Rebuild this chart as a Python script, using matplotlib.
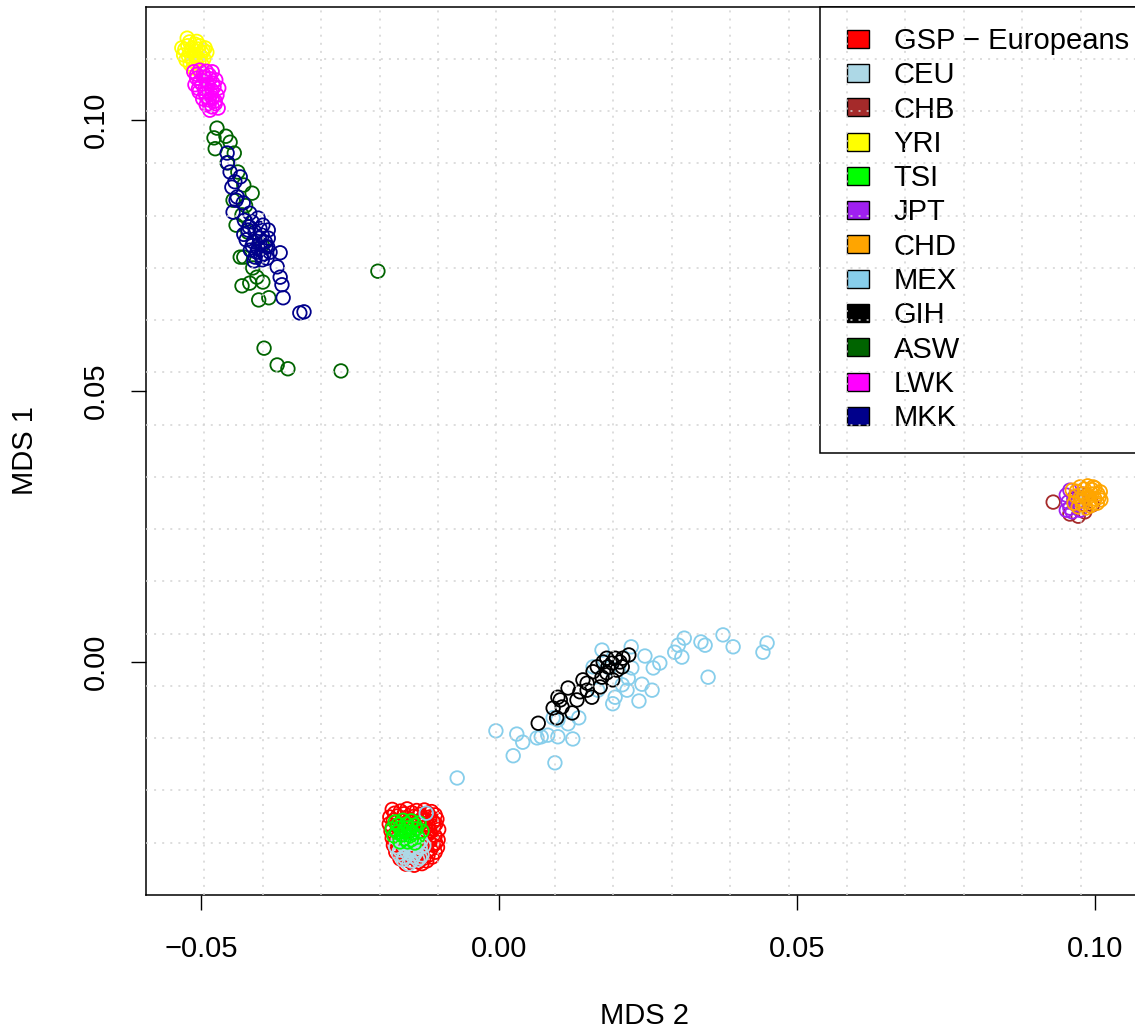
import matplotlib
matplotlib.use("Agg")
import matplotlib.pyplot as plt
import matplotlib.patches as mpatches
from matplotlib.legend_handler import HandlerPatch
import numpy as np

plt.rcParams['font.family'] = ['Liberation Sans', 'DejaVu Sans']

# population order = legend order = drawing order
pops = ["GSP \u2212 Europeans", "CEU", "CHB", "YRI", "TSI", "JPT", "CHD",
        "MEX", "GIH", "ASW", "LWK", "MKK"]
colors = ["#FF0000", "#ADD8E6", "#A52A2A", "#FFFF00", "#00FF00", "#A020F0",
          "#FFA500", "#87CEEB", "#000000", "#006400", "#FF00FF", "#00008B"]

# MDS 2 (x) and MDS 1 (y) values
gsp_x = [-0.0180, -0.0166, -0.0155, -0.0139, -0.0126, -0.0114,
         -0.0184, -0.0171, -0.0157, -0.0144, -0.0129, -0.0117, -0.0105,
         -0.0185, -0.0172, -0.0159, -0.0147, -0.0134, -0.0120, -0.0107,
         -0.0182, -0.0168, -0.0156, -0.0141, -0.0128, -0.0116, -0.0102,
         -0.0180, -0.0167, -0.0153, -0.0140, -0.0126, -0.0113, -0.0103,
         -0.0178, -0.0165, -0.0151, -0.0138, -0.0124, -0.0111, -0.0104,
         -0.0174, -0.0161, -0.0147, -0.0133, -0.0121, -0.0108,
         -0.0167, -0.0154, -0.0141, -0.0127, -0.0113,
         -0.0157, -0.0143, -0.0130,
         -0.0176, -0.0160, -0.0147, -0.0133, -0.0120, -0.0108,
         -0.0178, -0.0164, -0.0150, -0.0137, -0.0123, -0.0111,
         -0.0180, -0.0165, -0.0152, -0.0138, -0.0125, -0.0110,
         -0.0176, -0.0162, -0.0148, -0.0134, -0.0120, -0.0108,
         -0.0174, -0.0160, -0.0146, -0.0132, -0.0118, -0.0107,
         -0.0170, -0.0156, -0.0143, -0.0129, -0.0115,
         -0.0162, -0.0148, -0.0134, -0.0120,
         -0.0150, -0.0136, -0.0122]
gsp_y = [-0.0272, -0.0275, -0.0271, -0.0274, -0.0273, -0.0276,
         -0.0286, -0.0284, -0.0287, -0.0285, -0.0288, -0.0286, -0.0290,
         -0.0299, -0.0301, -0.0298, -0.0300, -0.0297, -0.0301, -0.0299,
         -0.0312, -0.0310, -0.0313, -0.0311, -0.0314, -0.0312, -0.0309,
         -0.0325, -0.0327, -0.0324, -0.0326, -0.0323, -0.0325, -0.0328,
         -0.0338, -0.0336, -0.0339, -0.0337, -0.0340, -0.0338, -0.0342,
         -0.0351, -0.0353, -0.0350, -0.0352, -0.0349, -0.0351,
         -0.0363, -0.0361, -0.0364, -0.0362, -0.0360,
         -0.0373, -0.0375, -0.0372,
         -0.0279, -0.0280, -0.0278, -0.0281, -0.0279, -0.0282,
         -0.0292, -0.0293, -0.0291, -0.0294, -0.0292, -0.0295,
         -0.0305, -0.0306, -0.0304, -0.0307, -0.0305, -0.0303,
         -0.0318, -0.0319, -0.0317, -0.0320, -0.0318, -0.0321,
         -0.0331, -0.0332, -0.0330, -0.0333, -0.0331, -0.0334,
         -0.0345, -0.0346, -0.0344, -0.0347, -0.0345,
         -0.0357, -0.0358, -0.0356, -0.0357,
         -0.0368, -0.0369, -0.0367]

ceu_x = [-0.0170, -0.0157, -0.0143, -0.0132, -0.0174, -0.0160, -0.0147, -0.0133,
         -0.0127, -0.0169, -0.0155, -0.0142, -0.0130, -0.0162, -0.0148, -0.0137, -0.0152,
         -0.0163, -0.0150, -0.0137, -0.0167, -0.0153, -0.0140, -0.0160, -0.0145, -0.0133]
ceu_y = [-0.0328, -0.0325, -0.0327, -0.0330, -0.0341, -0.0339, -0.0341, -0.0343,
         -0.0339, -0.0354, -0.0352, -0.0354, -0.0356, -0.0365, -0.0367, -0.0365, -0.0373,
         -0.0334, -0.0333, -0.0335, -0.0347, -0.0346, -0.0348, -0.0360, -0.0359, -0.0361]

chb_x = [0.0929, 0.0957, 0.0971, 0.0982, 0.0964, 0.0984, 0.0995]
chb_y = [0.0295, 0.0273, 0.0269, 0.0277, 0.0300, 0.0308, 0.0290]

yri_x = [-0.0524, -0.0533, -0.0523, -0.0511, -0.0503, -0.0494, -0.0530, -0.0519,
         -0.0509, -0.0499, -0.0491, -0.0526, -0.0516, -0.0506, -0.0496, -0.0519,
         -0.0509, -0.0499, -0.0514, -0.0504,
         -0.0528, -0.0516, -0.0506, -0.0497, -0.0522, -0.0512, -0.0502, -0.0514,
         -0.0504, -0.0520, -0.0508]
yri_y = [0.1151, 0.1133, 0.1137, 0.1140, 0.1137, 0.1133, 0.1120, 0.1124,
         0.1127, 0.1124, 0.1125, 0.1111, 0.1114, 0.1116, 0.1113, 0.1103,
         0.1105, 0.1102, 0.1096, 0.1092,
         0.1130, 0.1132, 0.1131, 0.1129, 0.1118, 0.1120, 0.1119, 0.1108,
         0.1109, 0.1144, 0.1145]

tsi_x = [-0.0175, -0.0162, -0.0148, -0.0135, -0.0180, -0.0167, -0.0154, -0.0140,
         -0.0130, -0.0177, -0.0164, -0.0150, -0.0137, -0.0167, -0.0154, -0.0142,
         -0.0170, -0.0156, -0.0142, -0.0172, -0.0160, -0.0146, -0.0160, -0.0148]
tsi_y = [-0.0295, -0.0292, -0.0293, -0.0297, -0.0308, -0.0306, -0.0306, -0.0308,
         -0.0312, -0.0321, -0.0319, -0.0321, -0.0323, -0.0332, -0.0332, -0.0334,
         -0.0300, -0.0299, -0.0301, -0.0314, -0.0313, -0.0315, -0.0326, -0.0328]

jpt_x = [0.0951, 0.0957, 0.0954, 0.0964, 0.0957, 0.0967, 0.0961, 0.0974, 0.0971,
         0.0977, 0.0951]
jpt_y = [0.0308, 0.0317, 0.0295, 0.0303, 0.0284, 0.0290, 0.0277, 0.0280, 0.0299,
         0.0310, 0.0280]

chd_x = [0.0961, 0.0974, 0.0987, 0.0999, 0.1008, 0.0967, 0.0981, 0.0994, 0.1006,
         0.0964, 0.0977, 0.0991, 0.1003, 0.0984, 0.0971, 0.0996, 0.1009,
         0.0968, 0.0981, 0.0994, 0.1004, 0.0974, 0.0987, 0.0999, 0.0978, 0.0991]
chd_y = [0.0317, 0.0323, 0.0325, 0.0321, 0.0314, 0.0306, 0.0310, 0.0310, 0.0304,
         0.0293, 0.0297, 0.0295, 0.0293, 0.0284, 0.0286, 0.0323, 0.0299,
         0.0315, 0.0319, 0.0318, 0.0310, 0.0302, 0.0303, 0.0301, 0.0290, 0.0288]

mex_x = [-0.0123, -0.0071, -0.0006, 0.0029, 0.0039, 0.0023, 0.0063, 0.0070, 0.0081,
         0.0098, 0.0093, 0.0123, 0.0090, 0.0115, 0.0133, 0.0172, 0.0221, 0.0244,
         0.0222, 0.0157, 0.0258, 0.0269, 0.0294, 0.0306, 0.0300, 0.0310, 0.0338,
         0.0345, 0.0375, 0.0392, 0.0350, 0.0442, 0.0449, 0.0239, 0.0256, 0.0234,
         0.0190, 0.0194, 0.0214, 0.0206, 0.0216, 0.0098, 0.0185, 0.0165]
mex_y = [-0.0279, -0.0214, -0.0127, -0.0133, -0.0148, -0.0173, -0.0140, -0.0138, -0.0135,
         -0.0138, -0.0186, -0.0142, -0.0103, -0.0114, -0.0103, 0.0022, 0.0028, 0.0011,
         -0.0011, -0.0009, -0.0011, -0.0002, 0.0018, 0.0009, 0.0031, 0.0044, 0.0037,
         0.0031, 0.0050, 0.0028, -0.0028, 0.0018, 0.0035, -0.0041, -0.0052, -0.0072,
         -0.0077, -0.0065, -0.0052, -0.0042, -0.0030, -0.0107, -0.0011, -0.0052]

gih_x = [0.0065, 0.0090, 0.0096, 0.0102, 0.0115, 0.0122, 0.0130, 0.0135, 0.0147,
         0.0155, 0.0140, 0.0157, 0.0169, 0.0164, 0.0174, 0.0180, 0.0189, 0.0197,
         0.0202, 0.0194, 0.0217, 0.0190, 0.0182, 0.0172, 0.0147, 0.0105, 0.0098,
         0.0206, 0.0207, 0.0180]
gih_y = [-0.0113, -0.0085, -0.0103, -0.0070, -0.0048, -0.0094, -0.0070, -0.0055, -0.0039,
         -0.0065, -0.0033, -0.0018, -0.0046, -0.0009, 0.0000, -0.0020, -0.0002, -0.0015,
         0.0000, 0.0007, 0.0013, -0.0033, -0.0009, -0.0028, -0.0052, -0.0083, -0.0065,
         -0.0009, 0.0007, 0.0007]

asw_x = [-0.0474, -0.0479, -0.0459, -0.0477, -0.0452, -0.0445, -0.0457, -0.0439,
         -0.0429, -0.0415, -0.0447, -0.0432, -0.0435, -0.0429, -0.0414, -0.0432,
         -0.0419, -0.0407, -0.0397, -0.0404, -0.0387, -0.0204, -0.0395, -0.0373,
         -0.0355, -0.0266, -0.0422, -0.0398, -0.0442, -0.0426]
asw_y = [0.0985, 0.0967, 0.0970, 0.0947, 0.0959, 0.0939, 0.0921, 0.0904,
         0.0880, 0.0865, 0.0852, 0.0825, 0.0747, 0.0747, 0.0727, 0.0694,
         0.0699, 0.0710, 0.0701, 0.0668, 0.0672, 0.0721, 0.0579, 0.0548,
         0.0541, 0.0537, 0.0793, 0.0769, 0.0806, 0.0842]

lwk_x = [-0.0513, -0.0503, -0.0492, -0.0482, -0.0508, -0.0496, -0.0486, -0.0476,
         -0.0511, -0.0499, -0.0489, -0.0479, -0.0471, -0.0504, -0.0494, -0.0484,
         -0.0474, -0.0498, -0.0487, -0.0477, -0.0492, -0.0482, -0.0472, -0.0486,
         -0.0508, -0.0497, -0.0487, -0.0503, -0.0491, -0.0481, -0.0505, -0.0494,
         -0.0483, -0.0492, -0.0482, -0.0487, -0.0477]
lwk_y = [0.1089, 0.1092, 0.1090, 0.1089, 0.1077, 0.1079, 0.1076, 0.1074,
         0.1065, 0.1066, 0.1063, 0.1061, 0.1059, 0.1052, 0.1050, 0.1048,
         0.1046, 0.1039, 0.1037, 0.1035, 0.1028, 0.1024, 0.1022, 0.1018,
         0.1084, 0.1085, 0.1083, 0.1071, 0.1070, 0.1068, 0.1058, 0.1057,
         0.1055, 0.1043, 0.1041, 0.1030, 0.1030]

mkk_x = [-0.0457, -0.0456, -0.0452, -0.0444, -0.0449, -0.0440, -0.0430, -0.0447,
         -0.0419, -0.0428, -0.0415, -0.0405, -0.0397, -0.0422, -0.0410, -0.0398,
         -0.0388, -0.0425, -0.0413, -0.0402, -0.0392, -0.0418, -0.0407, -0.0395,
         -0.0385, -0.0410, -0.0398, -0.0429, -0.0403, -0.0388, -0.0389, -0.0368,
         -0.0373, -0.0368, -0.0365, -0.0363, -0.0335, -0.0328, -0.0435, -0.0442,
         -0.0420, -0.0402, -0.0393, -0.0415, -0.0405, -0.0400, -0.0390, -0.0412]
mkk_y = [0.0939, 0.0921, 0.0904, 0.0886, 0.0876, 0.0858, 0.0847, 0.0830,
         0.0828, 0.0815, 0.0812, 0.0819, 0.0806, 0.0797, 0.0793, 0.0787,
         0.0782, 0.0779, 0.0775, 0.0771, 0.0766, 0.0760, 0.0756, 0.0753,
         0.0756, 0.0747, 0.0742, 0.0789, 0.0782, 0.0797, 0.0766, 0.0755,
         0.0729, 0.0710, 0.0696, 0.0672, 0.0644, 0.0646, 0.0895, 0.0852,
         0.0803, 0.0800, 0.0775, 0.0768, 0.0763, 0.0750, 0.0745, 0.0740]

xs = [gsp_x, ceu_x, chb_x, yri_x, tsi_x, jpt_x, chd_x, mex_x, gih_x, asw_x, lwk_x, mkk_x]
ys = [gsp_y, ceu_y, chb_y, yri_y, tsi_y, jpt_y, chd_y, mex_y, gih_y, asw_y, lwk_y, mkk_y]

x_ticks = [-0.05, 0.0, 0.05, 0.10]
x_ticklabels = ["\u22120.05", "0.00", "0.05", "0.10"]
y_ticks = [0.0, 0.05, 0.10]
y_ticklabels = ["0.00", "0.05", "0.10"]

W, H = 1135, 1034
fig = plt.figure(figsize=(W / 100, H / 100), dpi=100)
ax = fig.add_axes([146 / W, (H - 895) / H, (1139 - 146) / W, (895 - 6.7) / H])

for x, y, c in zip(xs, ys, colors):
    ax.scatter(x, y, s=95, facecolors='none', edgecolors=c, linewidths=1.3, zorder=3)

xlo, xhi = -0.05931, 0.10730
ylo, yhi = -0.04299, 0.12090
ax.set_xlim(xlo, xhi)
ax.set_ylim(ylo, yhi)

fs = 21
ax.set_xticks(x_ticks)
ax.set_xticklabels(x_ticklabels)
ax.set_yticks(y_ticks)
ax.set_yticklabels(y_ticklabels, rotation=90, va='center')
ax.tick_params(direction='out', length=10.8, width=1.0, labelsize=fs, color='black')
ax.tick_params(axis='x', pad=18)
ax.tick_params(axis='y', pad=15)
for sp in ax.spines.values():
    sp.set_linewidth(1.1)

fig.text(645 / W, 1 - 1016 / H, "MDS 2", ha='center', va='center', fontsize=fs)
fig.text(25 / W, 1 - 451 / H, "MDS 1", ha='center', va='center', fontsize=fs, rotation=90)


def square(legend, orig_handle, xdescent, ydescent, width, height, fontsize):
    w, h = 15.8, 13.0
    return mpatches.Rectangle((-xdescent + width - w, -ydescent + (height - h) / 2), w, h)


handles = [mpatches.Patch(facecolor=c, edgecolor='black', linewidth=1.0) for c in colors]
leg = ax.legend(handles, pops, loc='upper left',
                bbox_to_anchor=((820 - 146) / (1139 - 146), 1.0), borderaxespad=0,
                fontsize=fs, frameon=True, fancybox=False, framealpha=1,
                edgecolor='black', borderpad=0.7, labelspacing=0.215,
                handlelength=0.98, handleheight=0.6, handletextpad=0.85,
                handler_map={mpatches.Patch: HandlerPatch(patch_func=square)})
leg.get_frame().set_linewidth(1.1)
leg.set_zorder(5)

# dotted grid drawn over everything
for gx in np.linspace(xlo, xhi, 18)[1:-1]:
    ax.axvline(gx, color='#D3D3D3', lw=1.1, ls=(0, (1.3, 4.0)), zorder=10)
for gy in np.linspace(ylo, yhi, 18)[1:-1]:
    ax.axhline(gy, color='#D3D3D3', lw=1.1, ls=(0, (1.3, 4.0)), zorder=10)

fig.savefig("out.png", dpi=100)
